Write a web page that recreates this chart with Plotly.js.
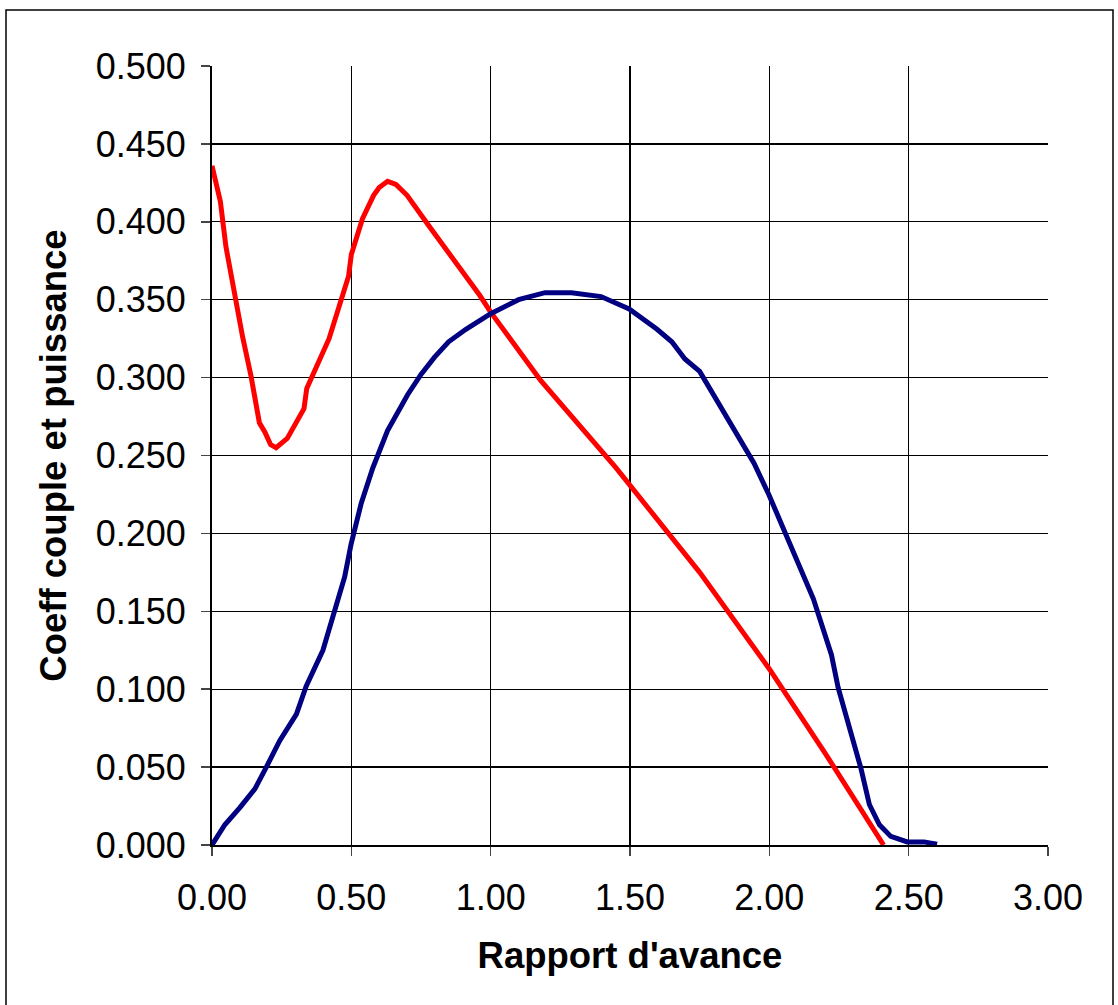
<!DOCTYPE html>
<html>
<head>
<meta charset="utf-8">
<script src="https://cdn.plot.ly/plotly-3.0.1.min.js"></script>
<style>
html,body{margin:0;padding:0;background:#fff;}
#chart{width:1118px;height:1005px;}
</style>
</head>
<body>
<div id="chart"></div>
<script>
// Coefficient de couple (rouge)
const coupleX = [0.00,0.03,0.05,0.08,0.11,0.14,0.17,0.19,0.21,0.23,0.27,0.33,0.34,0.42,0.46,0.49,0.50,0.54,0.58,0.60,0.63,0.66,0.70,0.75,0.78,0.96,1.00,1.18,1.45,1.75,2.00,2.20,2.41];
const coupleY = [0.436,0.413,0.384,0.354,0.326,0.301,0.271,0.265,0.257,0.255,0.261,0.280,0.293,0.325,0.348,0.365,0.379,0.402,0.417,0.422,0.426,0.424,0.417,0.405,0.397,0.353,0.342,0.298,0.242,0.175,0.113,0.059,0.000];
// Coefficient de puissance (bleu)
const puissX = [0.000,0.046,0.100,0.154,0.195,0.243,0.303,0.338,0.398,0.440,0.476,0.499,0.535,0.577,0.630,0.702,0.750,0.798,0.849,0.911,1.000,1.100,1.195,1.290,1.396,1.497,1.597,1.650,1.697,1.750,1.844,1.945,1.998,2.045,2.099,2.158,2.223,2.247,2.329,2.359,2.395,2.436,2.495,2.555,2.602];
const puissY = [0.000,0.013,0.024,0.036,0.050,0.067,0.084,0.102,0.125,0.149,0.172,0.193,0.219,0.242,0.266,0.289,0.302,0.313,0.323,0.331,0.341,0.350,0.3545,0.3545,0.352,0.344,0.331,0.323,0.312,0.304,0.275,0.245,0.225,0.205,0.182,0.158,0.122,0.101,0.049,0.026,0.013,0.0055,0.002,0.002,0.0005];

const xTitle = "Rapport d'avance";
const yTitle = "Coeff couple et puissance";

const FONT = "Liberation Sans, Arial, sans-serif";

const traces = [
  {x: coupleX, y: coupleY, type: 'scatter', mode: 'lines', name: 'Couple',
   line: {color: '#FF0000', width: 5}},
  {x: puissX, y: puissY, type: 'scatter', mode: 'lines', name: 'Puissance',
   line: {color: '#000080', width: 5}}
];

const layout = {
  width: 1118, height: 1005,
  margin: {l: 212, r: 70, t: 66, b: 160},
  paper_bgcolor: '#fff', plot_bgcolor: '#fff',
  showlegend: false,
  font: {family: FONT, color: '#000', size: 36},
  xaxis: {
    range: [0, 3], dtick: 0.5, tick0: 0, tickformat: '.2f',
    showgrid: true, gridcolor: '#000', gridwidth: 1.2,
    showline: true, linecolor: '#000', linewidth: 2,
    ticks: 'outside', ticklen: 9, tickcolor: '#444', tickwidth: 1.5,
    ticklabelstandoff: 11,
    zeroline: false,
    tickfont: {family: FONT, size: 36, color: '#000'},
    title: {text: xTitle, font: {family: FONT, size: 36.5, color: '#000', weight: 'bold'}, standoff: 25}
  },
  yaxis: {
    range: [0, 0.5], dtick: 0.05, tick0: 0, tickformat: '.3f',
    showgrid: true, gridcolor: '#000', gridwidth: 1.2,
    showline: true, linecolor: '#000', linewidth: 2,
    ticks: 'outside', ticklen: 9, tickcolor: '#444', tickwidth: 1.5,
    ticklabelstandoff: 8,
    zeroline: false,
    tickfont: {family: FONT, size: 36, color: '#000'},
    title: {text: yTitle, font: {family: FONT, size: 36.5, color: '#000', weight: 'bold'}, standoff: 18}
  },
  shapes: [{
    type: 'rect', xref: 'paper', yref: 'paper',
    x0: (6 - 212) / 836, x1: (1113 - 212) / 836,
    y0: (845 - 1012) / 779, y1: (845 - 10) / 779,
    line: {color: '#000', width: 1.5}, fillcolor: 'rgba(0,0,0,0)', layer: 'below'
  }]
};

Plotly.newPlot('chart', traces, layout, {displayModeBar: false, staticPlot: true});
</script>
</body>
</html>
